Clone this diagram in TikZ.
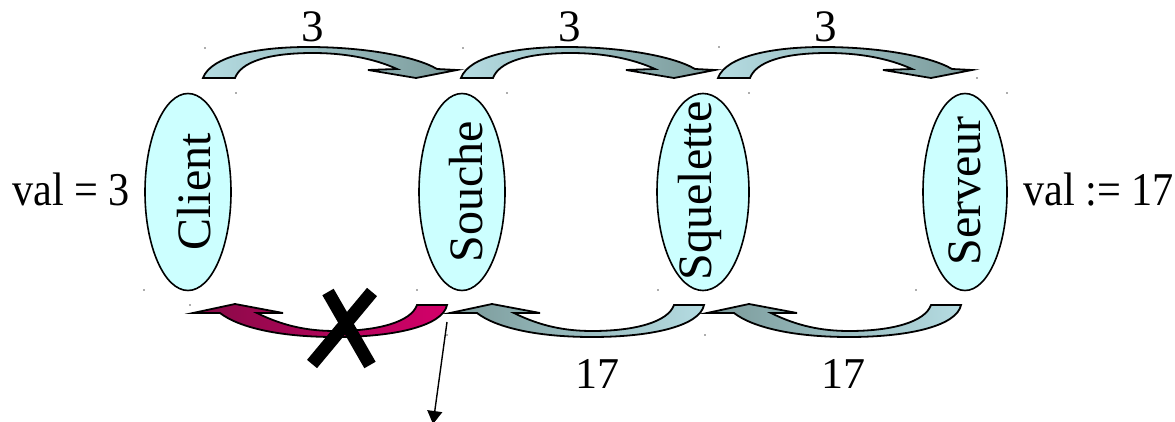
\documentclass[tikz,border=0pt]{standalone}
\usepackage{fontspec}
\setmainfont{Liberation Serif}
\usetikzlibrary{shapes.geometric,arrows.meta}

\definecolor{bandlight}{HTML}{B5DCE2}
\definecolor{banddark}{HTML}{7A9999}
\definecolor{plumdark}{HTML}{860A46}
\definecolor{plumlight}{HTML}{D4006A}
\definecolor{bubble}{HTML}{CCFFFF}

% curved "call" arrow over the top, tail at the left, head pointing down at the right
\newcommand\callarrow[1]{%
  \begin{scope}[shift={(#1,0)}]
    \path[band, left color=bandlight, right color=banddark]
      (0,78) .. controls (8,56) and (55,47) .. (105,47)
      .. controls (160,47) and (212,56) .. (234,69)
      -- (254,70) -- (213,78) -- (165,70) -- (194,69)
      .. controls (170,58) and (140,53) .. (110,53)
      .. controls (65,53) and (38,62) .. (32,78) -- cycle;
  \end{scope}}

% curved "reply" arrow underneath, head pointing left, tail at the right
\newcommand\replyarrow[3]{%
  \begin{scope}[shift={(#1,0)}]
    \path[band, left color=#2, right color=#3]
      (0,313) -- (42,304) -- (90,313) -- (64,313)
      .. controls (90,326) and (115,331) .. (142,331)
      .. controls (185,331) and (218,322) .. (224,305)
      -- (254,305)
      .. controls (250,325) and (205,337) .. (142,337)
      .. controls (85,337) and (45,327) .. (27,313) -- cycle;
  \end{scope}}

\begin{document}
\begin{tikzpicture}[x=1pt,y=-1pt,
  proc/.style={ellipse, draw=black, line width=1.6pt, fill=bubble,
    minimum width=86pt, minimum height=197pt, inner sep=0pt},
  proclabel/.style={rotate=90, anchor=base, inner sep=0pt,
    font=\fontsize{48}{48}\selectfont},
  valtext/.style={inner sep=0pt, xscale=0.9, font=\fontsize{47}{47}\selectfont},
  numtext/.style={inner sep=0pt, anchor=base, font=\fontsize{45}{45}\selectfont},
  band/.style={draw=black, line width=1.8pt, line join=miter},
  cross/.style={line width=13pt, line cap=butt},
  handle/.style={fill=black!65, draw=none},
]
\useasboundingbox (0,0) rectangle (1175,422);

% the four parties
\node[proc] (client)    at (188,192) {};
\node[proc] (souche)    at (462,192) {};
\node[proc, minimum width=92pt] (squelette) at (703,192) {};
\node[proc, minimum width=84pt] (serveur)   at (965,192) {};

\node[proclabel] (clientlbl)    at (210,192) {Client};
\node[proclabel] (souchelbl)    at (482,192) {Souche};
\node[proclabel] (squelettelbl) at (711,191) {Squelette};
\node[proclabel] (serveurlbl)   at (980,191) {Serveur};

% local values
\node[valtext, anchor=base west] (valin)  at (12,206)   {val = 3};
\node[valtext, anchor=base east] (valout) at (1174,206) {val := 17};

% request going out
\callarrow{203}
\callarrow{461}
\callarrow{718}
\node[numtext] (argone)   at (313,42) {3};
\node[numtext] (argtwo)   at (570,42) {3};
\node[numtext] (argthree) at (826,42) {3};

% result coming back
\replyarrow{193}{plumdark}{plumlight}
\replyarrow{450}{banddark}{bandlight}
\replyarrow{707}{banddark}{bandlight}
\node[numtext, font=\fontsize{44}{44}\selectfont] (resone) at (597,388) {17};
\node[numtext, font=\fontsize{44}{44}\selectfont] (restwo) at (843,388) {17};

% the lost reply
\draw[cross] (328,292) -- (370,365);
\draw[cross] (372,292) -- (312,364);

% pointer
\coordinate (ptrfrom) at (447,322);
\coordinate (ptrto)   at (433,424);
\draw[line width=1.4pt, -{Triangle[length=13pt, width=15pt]}] (ptrfrom) -- (ptrto);

% selection handles left on the page
\foreach \p in {(205,48),(463,48),(719,47),(977,78),(236,93),(144,290),
                (507,93),(417,290),(749,93),(658,290),(1007,93),(916,290),
                (190,305),(447,335),(705,335)}
  \fill[handle] \p circle (0.9);
\end{tikzpicture}
\end{document}
